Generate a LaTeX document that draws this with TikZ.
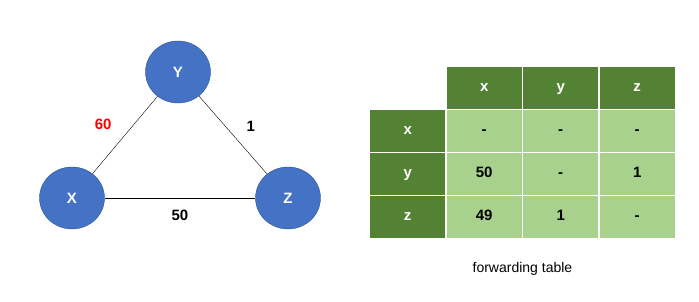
\documentclass[tikz,border=0pt]{standalone}
\usepackage{fontspec}
\setmainfont{Liberation Sans}
\usetikzlibrary{positioning,matrix,shapes.geometric}
\definecolor{routerblue}{HTML}{4472C4}
\definecolor{routerrim}{HTML}{2F528F}
\definecolor{tabdark}{HTML}{548235}
\definecolor{tablight}{HTML}{A9D18E}
\begin{document}
\begin{tikzpicture}[
    x=1pt, y=-1pt,
    font=\fontsize{15}{17}\selectfont\bfseries,
    router/.style={ellipse, draw=routerrim, fill=routerblue, text=white, minimum width=65pt, minimum height=62pt, inner sep=0pt},
    hdrcell/.style={fill=tabdark, text=white, minimum width=75pt, minimum height=41.5pt, inner sep=0pt, text height=11pt, text depth=3pt},
    bodycell/.style={fill=tablight, text=black, minimum width=75pt, minimum height=41.5pt, inner sep=0pt, text height=11pt, text depth=3pt}
  ]
    \useasboundingbox (0,0) rectangle (699,301);
    % routers
    \node[router] (Y) at (178,72) {Y};
    \node[router] (X) at (72,198) {X};
    \node[router] (Z) at (288,198) {Z};
    \draw (X) -- node[above left=2pt and 10pt, text=red] {60} (Y);
    \draw (Y) -- node[above right=0pt and 10pt] {1} (Z);
    \draw (X) -- node[below=8pt] {50} (Z);
    % forwarding table
    \matrix (fwd) [matrix of nodes, anchor=north west, inner sep=0pt,
        column sep=1.5pt, row sep=1.5pt,
        nodes={bodycell},
        column 1/.style={nodes={hdrcell}},
        row 1/.style={nodes={hdrcell}}] at (370,67) {
            & x  & y & z \\
      x     & -  & - & - \\
      y     & 50 & - & 1 \\
      z     & 49 & 1 & - \\
    };
    \node[font=\fontsize{14}{16}\selectfont, below=21pt of fwd] (caption) {forwarding table};
  \end{tikzpicture}
\end{document}
